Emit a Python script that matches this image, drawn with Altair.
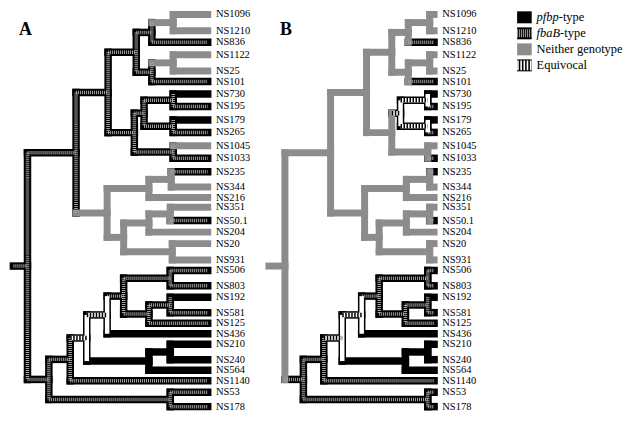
import altair as alt
import pandas as pd

# ---------------- data ----------------
leaf_names = ["NS1096", "NS1210", "NS836", "NS1122", "NS25", "NS101", "NS730", "NS195",
              "NS179", "NS265", "NS1045", "NS1033", "NS235", "NS344", "NS216", "NS351",
              "NS50.1", "NS204", "NS20", "NS931", "NS506", "NS803", "NS192", "NS581",
              "NS125", "NS436", "NS210", "NS240", "NS564", "NS1140", "NS53", "NS178"]
leaf_y = [5, 22, 34, 47, 64, 75, 88, 101, 115, 128, 142, 155, 169, 185, 196, 206,
          220, 232, 244, 261, 272, 288, 300, 316, 327, 338, 349, 365, 376, 387, 399, 414]
leaf_parent = ["c5", "c5", "c4", "c7", "c7", "c6", "c10", "c10", "c11", "c11", "c12", "c12",
               "c15", "c15", "c14", "c18", "c18", "c17", "c19", "c19", "c25", "c25", "c27", "c27",
               "c26", "c23", "c29", "c29", "c28", "c21", "c30", "c30"]
leaf_state_a = list("NNFNNFPFPFNFFNNNFNNNFFPFFPPPPFFF")
leaf_state_b = list("NNFNNFPFPFNFFNNNFNNNFFPFFPPPPFFF")
tip_a, tip_b = 207, 440

node_ids = ["root", "c1", "c2", "c3", "c4", "c5", "c6", "c7", "c8", "c9", "c10", "c11", "c12",
            "c13", "c14", "c15", "c16", "c17", "c18", "c19", "c20", "c21", "c22", "c23", "c24",
            "c25", "c26", "c27", "c28", "c29", "c30"]
node_parent = [None, "root", "c1", "c2", "c3", "c4", "c3", "c6", "c2", "c8", "c9", "c9", "c8",
               "c1", "c13", "c14", "c13", "c16", "c17", "c16", "root", "c20", "c21", "c22", "c23",
               "c24", "c24", "c26", "c22", "c28", "c20"]
node_depth_a = [18, 68, 101, 130, 146, 168, 146, 168, 128, 138, 168, 168, 168,
                100, 143, 166, 117, 143, 165, 167, 40, 62, 79, 100, 117,
                165, 143, 165, 143, 165, 165]
node_depth_b = [283, 330, 367, 393, 410, 432, 410, 432, 393, 402, 430, 430, 430,
                365, 408, 432, 380, 408, 432, 432, 302, 323, 342, 362, 380,
                430, 407, 430, 407, 430, 430]
node_state_a = ["F", "F", "F", "F", "F", "N", "F", "N", "F", "F", "F", "F", "F",
                "N", "N", "N", "N", "N", "N", "N", "F", "F", "E", "E", "F",
                "F", "F", "F", "P", "P", "F"]
node_state_b = ["N", "N", "N", "N", "N", "N", "N", "N", "N", "E", "E", "E", "N",
                "N", "N", "N", "N", "N", "N", "N", "F", "F", "E", "E", "F",
                "F", "F", "F", "P", "P", "F"]
root_stub = {"A": 0, "B": 263}

panel_letters = ["A", "B"]
panel_letter_x = [16, 284]

legend_italic = ["pfbp", "fbaB", "", ""]
legend_rest = ["-type", "-type", "Neither genotype", "Equivocal"]
legend_state = ["P", "F", "N", "E"]

# ---------------- build tree segments ----------------
REF_W, REF_H = 632, 421
W, H = 616, 405
EXT = 3.5  # half line width for square caps
SERIF = "Liberation Serif"
LEG_FS = 12.5

children = {}
ypos = {}
for n, y, p in zip(leaf_names, leaf_y, leaf_parent):
    ypos[n] = y
    children.setdefault(p, []).append(n)
for n, p in zip(node_ids, node_parent):
    if p is not None:
        children.setdefault(p, []).append(n)


def get_y(n):
    if n in ypos:
        return ypos[n]
    ys = [get_y(c) for c in children[n]]
    ypos[n] = (min(ys) + max(ys)) / 2
    return ypos[n]


for n in node_ids:
    get_y(n)

segs = []
labels = []
for panel, dep, st, lst, tip in [("A", node_depth_a, node_state_a, leaf_state_a, tip_a),
                                  ("B", node_depth_b, node_state_b, leaf_state_b, tip_b)]:
    depth = dict(zip(node_ids, dep))
    state = dict(zip(node_ids, st))
    for n, s in zip(leaf_names, lst):
        depth[n] = tip - EXT
        state[n] = s
    parent = dict(zip(node_ids, node_parent))
    parent.update(dict(zip(leaf_names, leaf_parent)))
    for n in list(node_ids) + list(leaf_names):
        p = parent[n]
        x0 = depth[p] if p is not None else root_stub[panel] + EXT
        segs.append(dict(x=x0, x2=depth[n], y=ypos[n], y2=ypos[n], s=state[n], o="h"))
        if n in children:
            cy = [ypos[c] for c in children[n]]
            segs.append(dict(x=depth[n], x2=depth[n], y=min(cy), y2=max(cy), s=state[n], o="v"))
    for n in leaf_names:
        labels.append(dict(x=tip + 5, y=ypos[n], t=n))

seg_df = pd.DataFrame(segs)
lab_df = pd.DataFrame(labels)

# approximate italic Times glyph widths (em) to place the upright remainder
ITW = {"p": 0.5, "f": 0.28, "b": 0.5, "a": 0.5, "B": 0.611}


def it_width(s):
    return sum(ITW.get(c, 0.5) for c in s) * LEG_FS / (W / REF_W)


leg_rows = []
for i, (it, rest, s) in enumerate(zip(legend_italic, legend_rest, legend_state)):
    y = 8 + i * 16.7
    leg_rows.append(dict(x=521 + 1, x2=538 - 1, y=y, y2=y, s=s, o="h", it=it, rest=rest,
                         tx=542, rx=542 + it_width(it)))
leg_df = pd.DataFrame(leg_rows)

xs = alt.Scale(domain=[0, REF_W], range=[0, W])
ys = alt.Scale(domain=[0, REF_H], range=[0, H])
X = alt.X("x:Q", scale=xs, axis=None)
X2 = alt.X2("x2:Q")
Y = alt.Y("y:Q", scale=ys, axis=None)
Y2 = alt.Y2("y2:Q")

tree = alt.Chart(seg_df).encode(x=X, x2=X2, y=Y, y2=Y2)

outline = tree.transform_filter("datum.s != 'N'").mark_rule(
    color="black", strokeWidth=7.5, strokeCap="square")
grey = tree.transform_filter("datum.s == 'N'").mark_rule(
    color="#8c8c8c", strokeWidth=7, strokeCap="square")
f_inner = tree.transform_filter("datum.s == 'F'").mark_rule(
    color="#a4a4a4", strokeWidth=3.5, strokeDash=[1, 1])
e_inner = tree.transform_filter("datum.s == 'E'").mark_rule(
    color="white", strokeWidth=4.5)
e_stripe = tree.transform_filter("datum.s == 'E' && datum.o == 'h'").mark_rule(
    color="black", strokeWidth=4.5, strokeDash=[1.5, 1.5])

leg = alt.Chart(leg_df).encode(x=X, x2=X2, y=Y, y2=Y2)
leg_base = leg.transform_filter("datum.s != 'N'").mark_rule(color="black", strokeWidth=12)
leg_grey = leg.transform_filter("datum.s == 'N'").mark_rule(color="#8c8c8c", strokeWidth=12)
leg_f = leg.transform_filter("datum.s == 'F'").mark_rule(color="#a4a4a4", strokeWidth=8, strokeDash=[1, 1])
leg_e = leg.transform_filter("datum.s == 'E'").mark_rule(color="white", strokeWidth=10, strokeDash=[1.6, 1.6])

leg_it = alt.Chart(leg_df).transform_filter("datum.it != ''").mark_text(
    align="left", baseline="middle", font=SERIF, fontSize=LEG_FS,
    fontStyle="italic", color="black").encode(
    x=alt.X("tx:Q", scale=xs, axis=None), y=Y, text="it:N")
leg_txt = alt.Chart(leg_df).mark_text(
    align="left", baseline="middle", font=SERIF, fontSize=LEG_FS,
    color="black").encode(
    x=alt.X("rx:Q", scale=xs, axis=None), y=Y, text="rest:N")

leaf_text = alt.Chart(lab_df).mark_text(
    align="left", baseline="middle", font=SERIF, fontSize=10.5,
    color="black").encode(x=alt.X("x:Q", scale=xs, axis=None),
                          y=alt.Y("y:Q", scale=ys, axis=None), text="t:N")

pl_df = pd.DataFrame({"t": panel_letters, "x": panel_letter_x, "y": [21, 21]})
panel_text = alt.Chart(pl_df).mark_text(
    align="center", baseline="middle", font=SERIF, fontSize=18,
    fontWeight="bold", color="black").encode(
    x=alt.X("x:Q", scale=xs, axis=None), y=alt.Y("y:Q", scale=ys, axis=None), text="t:N")

chart = alt.layer(outline, grey, f_inner, e_inner, e_stripe,
                  leg_base, leg_grey, leg_f, leg_e, leg_it, leg_txt,
                  leaf_text, panel_text).properties(
    width=W, height=H, padding=0, background="white"
).configure_view(stroke=None)

chart.save("out.html", embed_options={"renderer": "svg", "actions": False})
